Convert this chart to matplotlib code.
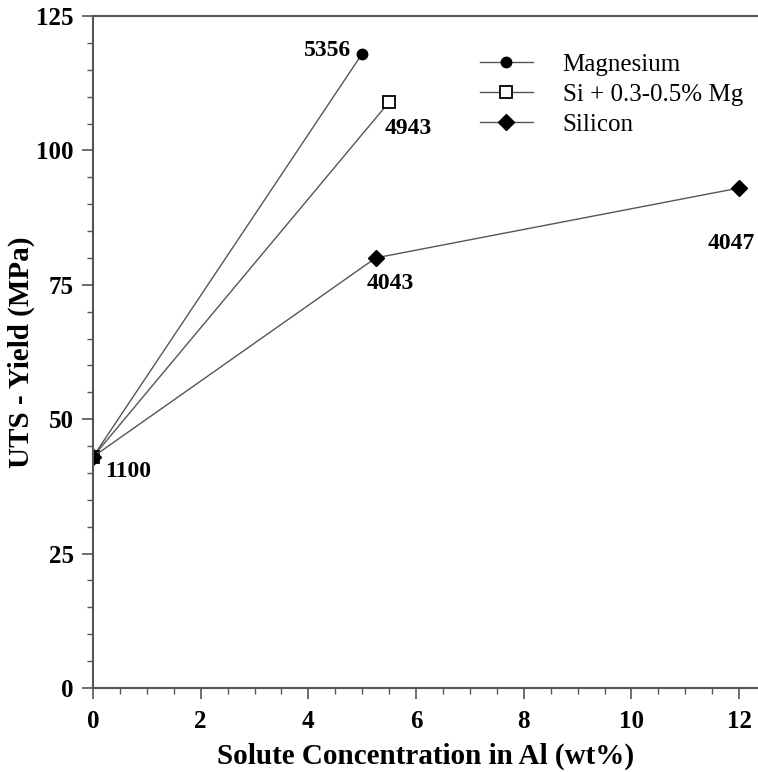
import matplotlib
matplotlib.use("Agg")
import matplotlib.pyplot as plt

plt.rcParams['font.family'] = ['Liberation Serif', 'DejaVu Serif']

# data
mg_x = [0.0, 5.0]
mg_y = [43.0, 118.0]
simg_x = [0.0, 5.5]
simg_y = [43.0, 109.0]
si_x = [0.0, 5.25, 12.0]
si_y = [43.0, 80.0, 93.0]

alloys = ['1100', '5356', '4943', '4043', '4047']
alloy_x = [0.0, 5.0, 5.5, 5.25, 12.0]
alloy_y = [43.0, 118.0, 109.0, 80.0, 93.0]
# label offsets in points
offsets = [(8.5, -10.5), (-8, 2.5), (-3, -19), (-6.5, -18.5), (-23, -40)]
aligns = ['left', 'right', 'left', 'left', 'left']

xticks = [0, 2, 4, 6, 8, 10, 12]
yticks = [0, 25, 50, 75, 100, 125]

fig = plt.figure(figsize=(7.58, 7.72), dpi=100)
ax = fig.add_axes([0.1227, 0.1088, 0.8773, 0.8705])

lc = '#555555'
ax.plot(mg_x, mg_y, color=lc, lw=1, marker='o', ms=7.5, mfc='black', mec='black', label='Magnesium')
ax.plot(simg_x, simg_y, color=lc, lw=1, marker='s', ms=8, mfc='white', mec='black', mew=1.3,
        label='Si + 0.3-0.5% Mg')
ax.plot(si_x, si_y, color=lc, lw=1, marker='D', ms=8, mfc='black', mec='black', label='Silicon')

for name, x, y, off, ha in zip(alloys, alloy_x, alloy_y, offsets, aligns):
    ax.annotate(name, (x, y), xytext=off, textcoords='offset points', ha=ha, va='center',
                fontsize=17, fontweight='bold')

ax.set_xlim(0, 12.35)
ax.set_ylim(0, 125)
ax.set_xticks(xticks)
ax.set_yticks(yticks)
ax.set_xticks([i * 0.5 for i in range(25)], minor=True)
ax.set_yticks([i * 5 for i in range(26)], minor=True)
ax.tick_params(which='both', direction='out', color=lc, labelsize=18)
ax.tick_params(which='major', length=8, width=1.2)
ax.tick_params(which='minor', length=4, width=1)
ax.tick_params(axis='x', pad=8)
ax.tick_params(axis='y', pad=6)
for lab in ax.get_xticklabels() + ax.get_yticklabels():
    lab.set_fontweight('bold')

for s in ['left', 'bottom', 'top']:
    ax.spines[s].set_color(lc)
    ax.spines[s].set_linewidth(1.5)
ax.spines['right'].set_visible(False)

ax.set_xlabel('Solute Concentration in Al (wt%)', fontsize=21, fontweight='bold', labelpad=7)
ax.set_ylabel('UTS - Yield (MPa)', fontsize=21, fontweight='bold', labelpad=1)

leg = ax.legend(loc='upper left', bbox_to_anchor=(0.582, 0.944), frameon=False, fontsize=18,
                handlelength=2.1, labelspacing=0.3, handletextpad=1.2, borderpad=0,
                borderaxespad=0)

fig.savefig('out.png', dpi=100)
